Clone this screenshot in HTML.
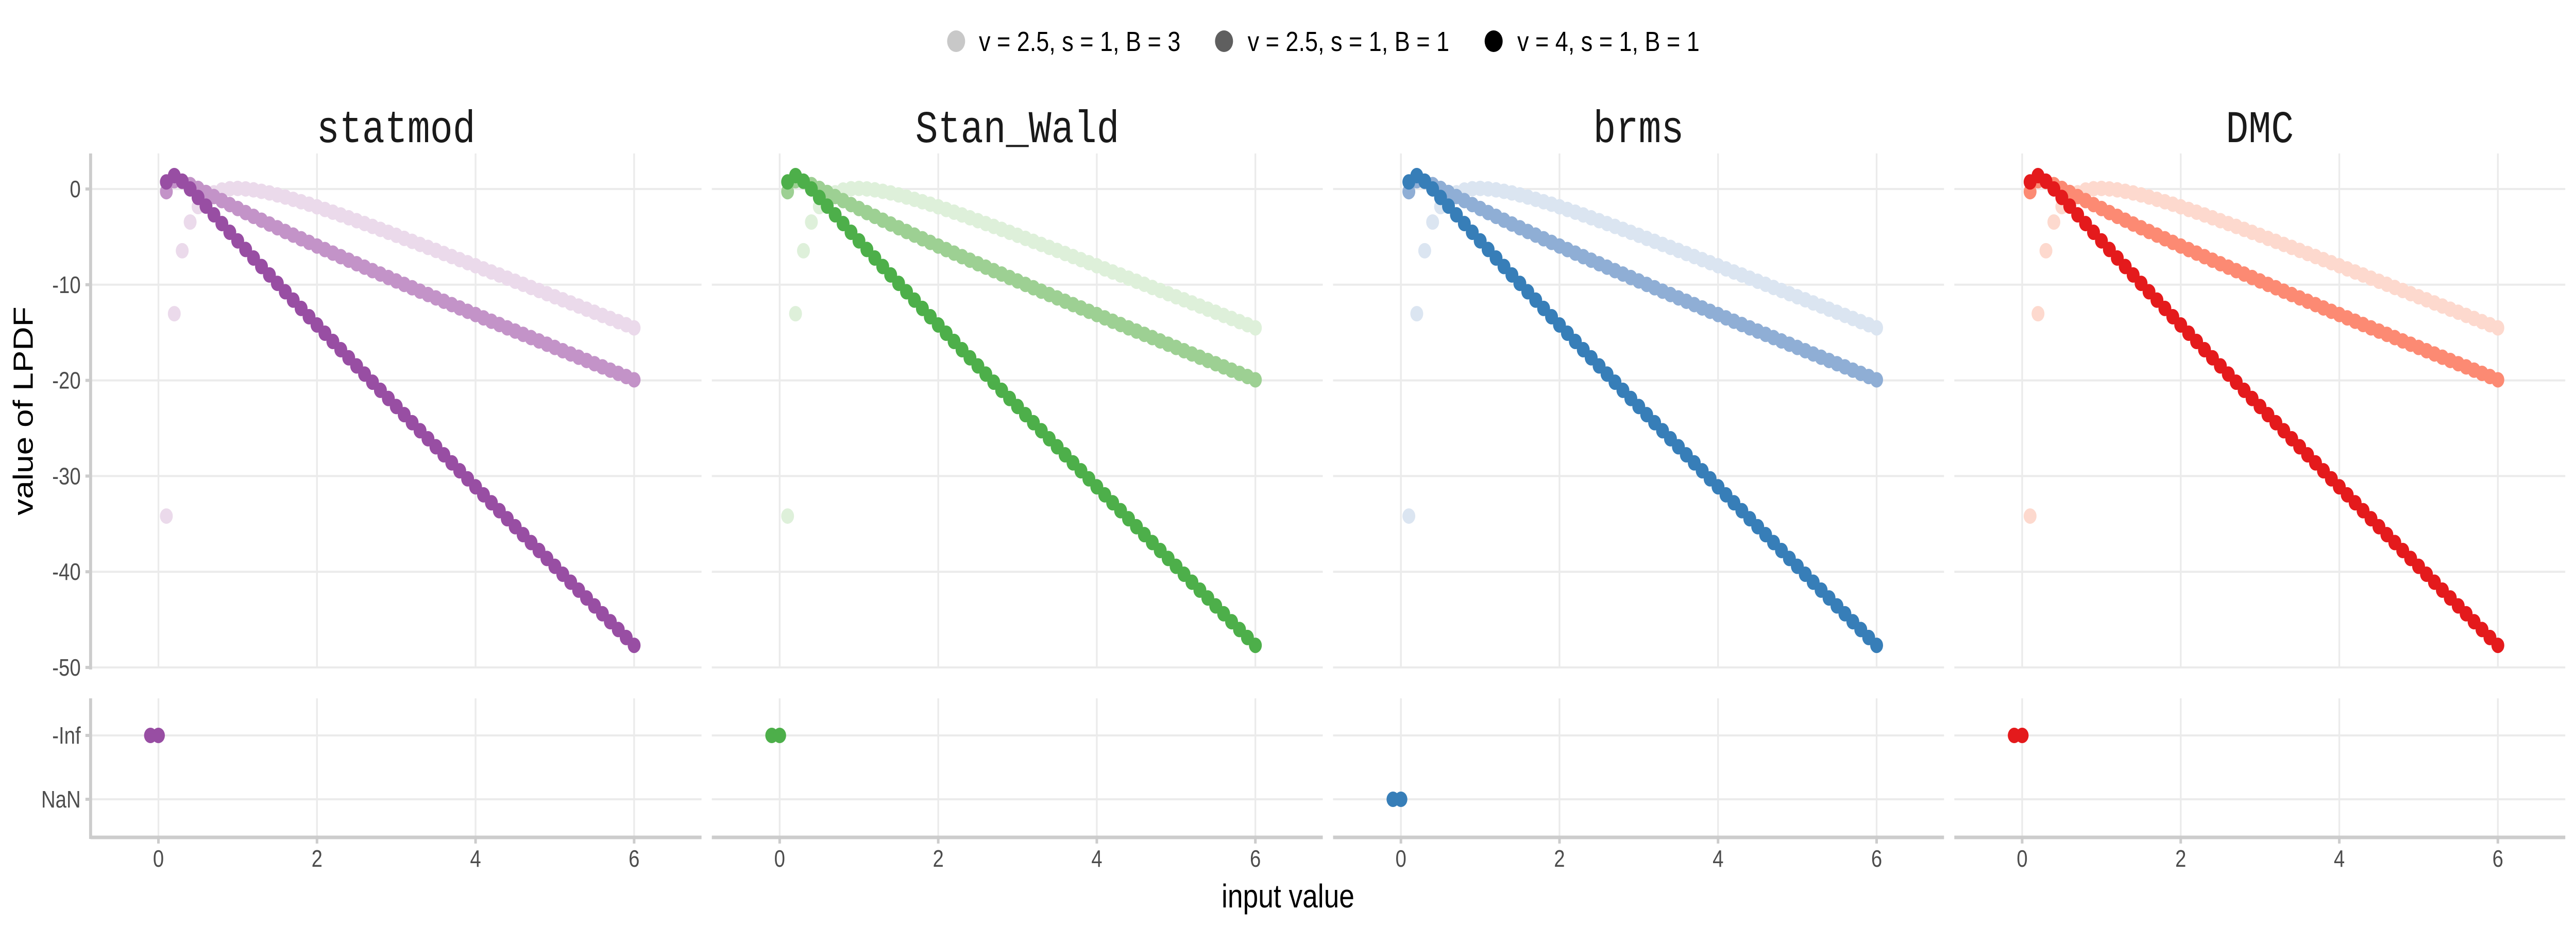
<!DOCTYPE html>
<html><head><meta charset="utf-8">
<style>
html,body{margin:0;padding:0;background:#fff;overflow:hidden;width:100%;height:100%;}
svg{display:block;width:100vw;height:100vh;}
</style></head>
<body>
<svg id="chart" xmlns="http://www.w3.org/2000/svg" viewBox="0 0 6000 1800" preserveAspectRatio="none">
<rect x="0" y="0" width="6000" height="1800" fill="#fff"/>
<g id="legend">
  <g>
    <circle cx="2227" cy="80" r="21" fill="#c8c8c8"/>
    <text x="2280" y="99" font-family="Liberation Sans, sans-serif" font-size="54" fill="#000">v = 2.5, s = 1, B = 3</text>
  </g>
  <g>
    <circle cx="2851" cy="80" r="21" fill="#5f5f5f"/>
    <text x="2906" y="99" font-family="Liberation Sans, sans-serif" font-size="54" fill="#000">v = 2.5, s = 1, B = 1</text>
  </g>
  <g>
    <circle cx="3479" cy="80" r="21" fill="#000"/>
    <text x="3534" y="99" font-family="Liberation Sans, sans-serif" font-size="54" fill="#000">v = 4, s = 1, B = 1</text>
  </g>
</g>
<text x="0" y="0" transform="translate(76,798) rotate(-90)" text-anchor="middle" font-family="Liberation Sans, sans-serif" font-size="64" fill="#000">value of LPDF</text>
<text x="3000" y="1762" text-anchor="middle" font-family="Liberation Sans, sans-serif" font-size="64" fill="#000">input value</text>
<g id="panels"></g>
</svg>
<script>
// ---- data ----
const panelNames = ["statmod", "Stan_Wald", "brms", "DMC"];
const xValues = [0.1,0.2,0.3,0.4,0.5,0.6,0.7,0.8,0.9,1.0,1.1,1.2,1.3,1.4,1.5,1.6,1.7,1.8,1.9,2.0,2.1,2.2,2.3,2.4,2.5,2.6,2.7,2.8,2.9,3.0,3.1,3.2,3.3,3.4,3.5,3.6,3.7,3.8,3.9,4.0,4.1,4.2,4.3,4.4,4.5,4.6,4.7,4.8,4.9,5.0,5.1,5.2,5.3,5.4,5.5,5.6,5.7,5.8,5.9,6.0];
const seriesLight = [-34.18,-13.03,-6.45,-3.45,-1.84,-0.93,-0.40,-0.11,0.03,0.06,0.01,-0.09,-0.24,-0.41,-0.62,-0.84,-1.08,-1.33,-1.59,-1.86,-2.14,-2.42,-2.71,-3.01,-3.31,-3.61,-3.91,-4.22,-4.53,-4.84,-5.16,-5.47,-5.79,-6.10,-6.42,-6.74,-7.06,-7.38,-7.70,-8.02,-8.35,-8.67,-8.99,-9.32,-9.64,-9.96,-10.29,-10.61,-10.94,-11.26,-11.58,-11.91,-12.23,-12.56,-12.88,-13.21,-13.53,-13.86,-14.18,-14.51];
const seriesMid = [-0.28,0.87,0.78,0.46,0.06,-0.36,-0.79,-1.21,-1.63,-2.04,-2.46,-2.86,-3.26,-3.66,-4.05,-4.44,-4.82,-5.20,-5.58,-5.96,-6.33,-6.70,-7.07,-7.44,-7.81,-8.17,-8.53,-8.89,-9.25,-9.61,-9.97,-10.32,-10.68,-11.03,-11.38,-11.73,-12.08,-12.43,-12.78,-13.12,-13.47,-13.82,-14.16,-14.51,-14.85,-15.19,-15.53,-15.88,-16.22,-16.56,-16.90,-17.24,-17.58,-17.92,-18.26,-18.59,-18.93,-19.27,-19.60,-19.94];
const seriesDark = [0.74,1.40,0.82,0.01,-0.88,-1.79,-2.70,-3.61,-4.52,-5.42,-6.32,-7.21,-8.10,-8.98,-9.86,-10.74,-11.61,-12.48,-13.35,-14.21,-15.07,-15.93,-16.79,-17.64,-18.49,-19.34,-20.19,-21.04,-21.89,-22.73,-23.58,-24.42,-25.26,-26.10,-26.94,-27.78,-28.62,-29.45,-30.29,-31.12,-31.96,-32.79,-33.62,-34.46,-35.29,-36.12,-36.95,-37.78,-38.61,-39.43,-40.26,-41.09,-41.92,-42.74,-43.57,-44.39,-45.22,-46.04,-46.87,-47.69];
const specialX = [-0.1, 0];
const specialCategory = ["-Inf", "-Inf", "NaN", "-Inf"]; // per panel
const yTicks = [0, -10, -20, -30, -40, -50];
const yTickLabels = ["0", "-10", "-20", "-30", "-40", "-50"];
const lowerTickLabels = ["-Inf", "NaN"];
const xTicks = [0, 2, 4, 6];
const xTickLabels = ["0", "2", "4", "6"];
const paletteLight = ["#ebdaeb", "#def0da", "#dbe5f1", "#fdd9ce"];
const paletteMid = ["#c393c8", "#9dd093", "#8faed5", "#fc8a73"];
const paletteDark = ["#984ea3", "#4daf4a", "#377eb8", "#e41a1c"];

// ---- layout ----
const NS = "http://www.w3.org/2000/svg";
const PANEL_W = 1447, PLOT_L = 211, PLOT_W = 1423;
const UP_TOP = 298, UP_BOT = 1297, LO_TOP = 1356, LO_BOT = 1626;
function xScale(v, p) { return PLOT_L + p * PANEL_W + 158 + v * (1108 / 6); }
function yScale(v) { return 367 + (-v) * (929 / 50); }
function yCat(c) { return c === "-Inf" ? 1428 : 1552; }
function mk(tag, attrs, parent) {
  const el = document.createElementNS(NS, tag);
  for (const k in attrs) el.setAttribute(k, attrs[k]);
  parent.appendChild(el);
  return el;
}
const root = document.getElementById("panels");
const GRID = "#ebebeb", AXIS = "#cccccc", TICKC = "#4d4d4d";

panelNames.forEach((name, p) => {
  const g = mk("g", {}, root);
  
  
  const left = PLOT_L + p * PANEL_W, right = left + PLOT_W;

  const title = mk("text", {x: (left + right) / 2, y: 276, "text-anchor": "middle",
    "font-family": "Liberation Mono, monospace", "font-size": "88", fill: "#1a1a1a"}, g);
  title.textContent = name;
  
  

  yTicks.forEach(t => {
    const l = mk("line", {x1: left, x2: right, y1: yScale(t), y2: yScale(t), stroke: GRID, "stroke-width": 4}, g);
    
    
  });
  lowerTickLabels.forEach(c => {
    const l = mk("line", {x1: left, x2: right, y1: yCat(c), y2: yCat(c), stroke: GRID, "stroke-width": 4}, g);
    
    
  });
  xTicks.forEach(t => {
    const a = mk("line", {x1: xScale(t, p), x2: xScale(t, p), y1: UP_TOP, y2: UP_BOT, stroke: GRID, "stroke-width": 4}, g);
    
    
    const b = mk("line", {x1: xScale(t, p), x2: xScale(t, p), y1: LO_TOP, y2: LO_BOT, stroke: GRID, "stroke-width": 4}, g);
    
    
  });

  const ax = mk("line", {x1: left, x2: right, y1: LO_BOT, y2: LO_BOT, stroke: AXIS, "stroke-width": 7}, g);
  
  
  xTicks.forEach((t, i) => {
    const tk = mk("line", {x1: xScale(t, p), x2: xScale(t, p), y1: LO_BOT, y2: LO_BOT + 12, stroke: AXIS, "stroke-width": 6}, g);
    
    
    const tl = mk("text", {x: xScale(t, p), y: 1683, "text-anchor": "middle", "font-family": "Liberation Sans, sans-serif", "font-size": "46", fill: TICKC}, g);
    tl.textContent = xTickLabels[i];
    
    
  });

  if (p === 0) {
    const ya = mk("line", {x1: left, x2: left, y1: UP_TOP, y2: UP_BOT + 3, stroke: AXIS, "stroke-width": 7}, g);
    
    
    const yb = mk("line", {x1: left, x2: left, y1: LO_TOP, y2: LO_BOT + 3, stroke: AXIS, "stroke-width": 7}, g);
    
    
    yTicks.forEach((t, i) => {
      const tk = mk("line", {x1: left - 12, x2: left, y1: yScale(t), y2: yScale(t), stroke: AXIS, "stroke-width": 6}, g);
      
      
      const tl = mk("text", {x: 188, y: yScale(t) + 16, "text-anchor": "end", "font-family": "Liberation Sans, sans-serif", "font-size": "46", fill: TICKC}, g);
      tl.textContent = yTickLabels[i];
      
      
    });
    lowerTickLabels.forEach(c => {
      const tk = mk("line", {x1: left - 12, x2: left, y1: yCat(c), y2: yCat(c), stroke: AXIS, "stroke-width": 6}, g);
      
      
      const tl = mk("text", {x: 188, y: yCat(c) + 16, "text-anchor": "end", "font-family": "Liberation Sans, sans-serif", "font-size": "46", fill: TICKC}, g);
      tl.textContent = c;
      
      
    });
  }

  const series = [[seriesLight, paletteLight[p], 'light'], [seriesMid, paletteMid[p], 'mid'], [seriesDark, paletteDark[p], 'dark']];
  series.forEach(([vals, col, tag]) => {
    const sg = mk("g", {fill: col}, g);
    
    
    vals.forEach((v, i) => {
      const c = mk("circle", {cx: xScale(xValues[i], p), cy: yScale(v), r: 15}, sg);
      
      
    });
  });
  specialX.forEach(sx => {
    const c = mk("circle", {cx: xScale(sx, p), cy: yCat(specialCategory[p]), r: 15, fill: paletteDark[p]}, g);
    
    
  });
});
</script>
</body></html>
